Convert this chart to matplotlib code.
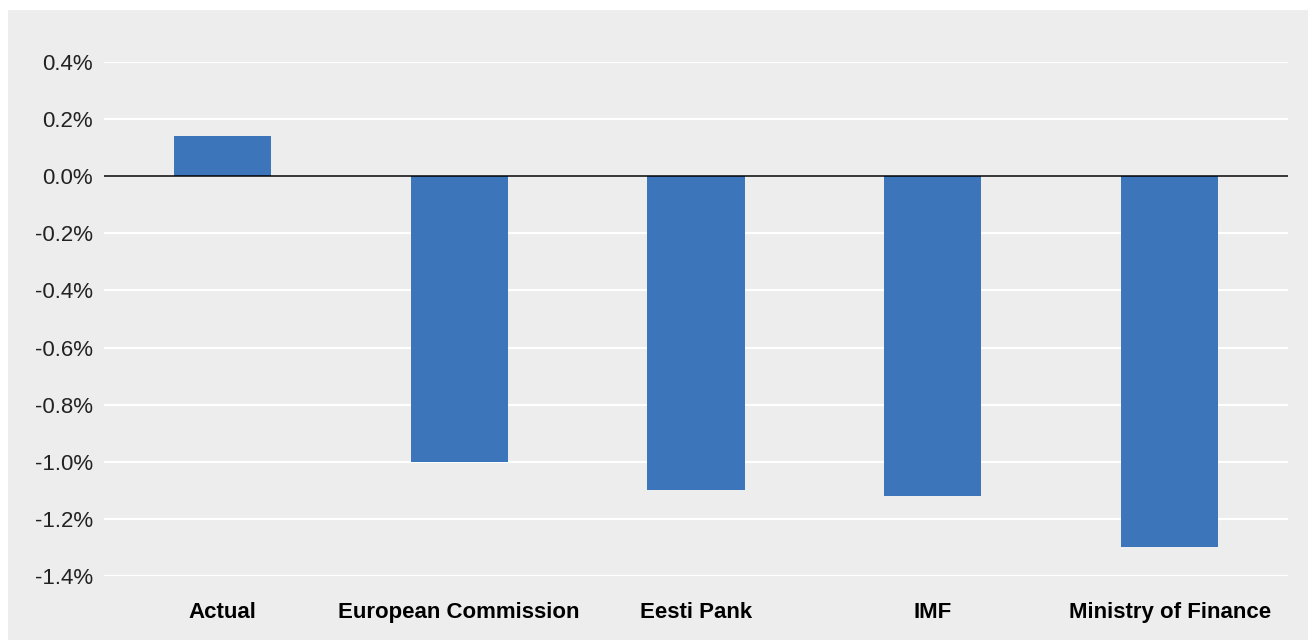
import matplotlib
matplotlib.use('Agg')
import matplotlib.pyplot as plt
from matplotlib.patches import Rectangle
from matplotlib.ticker import FuncFormatter

plt.rcParams['font.family'] = ['Liberation Sans', 'DejaVu Sans']

# data
categories = ['Actual', 'European Commission', 'Eesti Pank', 'IMF', 'Ministry of Finance']
values = [0.14, -1.0, -1.1, -1.12, -1.3]
yticks = [-1.4, -1.2, -1.0, -0.8, -0.6, -0.4, -0.2, 0.0, 0.2, 0.4]

bg = '#ECEDEC'
bar_color = '#3C75B9'

fig = plt.figure(figsize=(13.08, 6.4), dpi=100)
fig.patch.set_facecolor('white')
# grey panel with a thin white margin at top and left
fig.patches.append(Rectangle((8 / 1308, 0), 1, 630 / 640, transform=fig.transFigure,
                             facecolor=bg, edgecolor='none', zorder=-5))

ax = fig.add_axes([104 / 1308, 64 / 640, 1184 / 1308, 514 / 640])
ax.set_facecolor('none')

x = range(len(categories))
ax.bar(x, values, width=0.41, color=bar_color, zorder=3)
ax.axhline(0, color='black', lw=1.1, zorder=4)

ax.set_xlim(-0.5, len(categories) - 0.5)
ax.set_ylim(-1.4, 0.4)
ax.set_yticks(yticks)
ax.yaxis.set_major_formatter(FuncFormatter(lambda v, p: f'{v:.1f}%'))
ax.grid(axis='y', color='white', lw=1.6, zorder=1)
ax.set_axisbelow(True)

ax.set_xticks(list(x))
ax.set_xticklabels(categories, fontweight='bold', fontsize=16)
ax.tick_params(axis='x', length=0, pad=19)
ax.tick_params(axis='y', length=0, pad=8, labelsize=16, labelcolor='#222222')

for s in ax.spines.values():
    s.set_visible(False)

plt.savefig('out.png', dpi=100)
plt.close()
